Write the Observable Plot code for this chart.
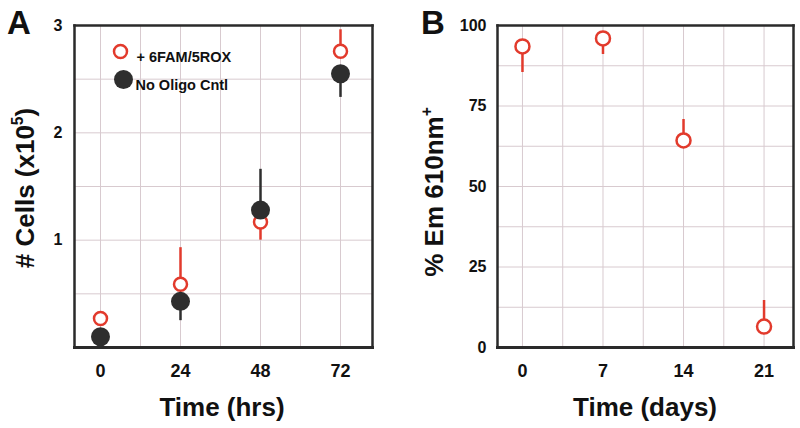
<!DOCTYPE html>
<html>
<head>
<meta charset="utf-8">
<script src="https://cdn.jsdelivr.net/npm/d3@7"></script>
<script src="https://cdn.jsdelivr.net/npm/@observablehq/plot@0.6"></script>
<style>
  html, body { margin: 0; padding: 0; background: #fff; }
  #wrap { position: relative; width: 800px; height: 428px; font-family: "Liberation Sans", Arial, sans-serif; font-weight: bold; color: #111; }
  #wrap svg { position: absolute; top: 0; }
  .ttl { position: absolute; white-space: nowrap; line-height: 1; }
  .rot { transform: translate(-50%, -50%) rotate(-90deg); }
  .ctr { transform: translate(-50%, -50%); }
  sup { font-size: 0.6em; vertical-align: 0.7em; line-height: 0; }
</style>
</head>
<body>
<div id="wrap"></div>
<script>
// ---- Panel A data ----
const hoursA = [0, 24, 48, 72];
const famMean = [0.27, 0.59, 1.17, 2.76];
const famErrEnd = [null, 0.93, 1.00, 2.96];
const ctrlMean = [0.10, 0.43, 1.28, 2.55];
const ctrlErrEnd = [null, 0.25, 1.66, 2.33];
const xTicksA = [0, 24, 48, 72];
const yTicksA = [1, 2, 3];
const xGridA = [0, 12, 24, 36, 48, 60, 72];
const yGridA = [0.5, 1, 1.5, 2, 2.5];
const legendLabels = ["+ 6FAM/5ROX", "No Oligo Cntl"];

// ---- Panel B data ----
const daysB = [0, 7, 14, 21];
const emMean = [93.5, 96, 64.3, 6.5];
const emErrEnd = [85.4, 91, 70.8, 14.6];
const xTicksB = [0, 7, 14, 21];
const yTicksB = [0, 25, 50, 75, 100];
const xGridB = [0, 3.5, 7, 10.5, 14, 17.5, 21];
const yGridB = [12.5, 25, 37.5, 50, 62.5, 75, 87.5];

const RED = "#e23a2c";
const DARK = "#2e2e2e";
const GRID = "#d8cacf";
const FRAME = "#2a2a2a";

const famRows = hoursA.map((h, i) => ({x: h, y: famMean[i], e: famErrEnd[i]}));
const ctrlRows = hoursA.map((h, i) => ({x: h, y: ctrlMean[i], e: ctrlErrEnd[i]}));
const emRows = daysB.map((d, i) => ({x: d, y: emMean[i], e: emErrEnd[i]}));

const baseStyle = {fontFamily: "Liberation Sans, Arial, sans-serif", fontWeight: "bold", color: "#111", background: "transparent", overflow: "visible"};
const intFmt = d3.format("d");

function frameMarks() {
  return ["top", "right", "bottom", "left"].map(a =>
    Plot.frame({anchor: a, stroke: FRAME, strokeOpacity: 1, strokeWidth: a === "bottom" ? 3 : 2.5, strokeLinecap: "square"}));
}

const plotA = Plot.plot({
  width: 400, height: 428,
  marginLeft: 74, marginRight: 28, marginTop: 25, marginBottom: 81,
  style: baseStyle,
  x: {domain: [-7.8, 81.6]},
  y: {domain: [0, 3]},
  marks: [
    Plot.gridX(xGridA, {stroke: GRID, strokeOpacity: 1, strokeWidth: 1}),
    Plot.gridY(yGridA, {stroke: GRID, strokeOpacity: 1, strokeWidth: 1}),
    Plot.axisX(xTicksA, {tickSize: 0, tickPadding: 17, fontSize: 18, fontWeight: "bold", label: null, tickFormat: intFmt}),
    Plot.axisY(yTicksA, {tickSize: 0, tickPadding: 12, fontSize: 16, fontWeight: "bold", label: null, tickFormat: intFmt}),
    ...frameMarks(),
    Plot.ruleX(famRows.filter(d => d.e != null), {x: "x", y1: "y", y2: "e", stroke: RED, strokeWidth: 2.5}),
    Plot.dot(famRows, {x: "x", y: "y", r: 6.5, stroke: RED, strokeWidth: 2.5, fill: "white"}),
    Plot.ruleX(ctrlRows.filter(d => d.e != null), {x: "x", y1: "y", y2: "e", stroke: DARK, strokeWidth: 2.5}),
    Plot.dot(ctrlRows, {x: "x", y: "y", r: 9.5, fill: DARK}),
    // legend
    Plot.dot([legendLabels[0]], {frameAnchor: "top-left", dx: 46, dy: 26, r: 6.5, stroke: RED, strokeWidth: 2.5, fill: "white"}),
    Plot.dot([legendLabels[1]], {frameAnchor: "top-left", dx: 49, dy: 54, r: 9.5, fill: DARK}),
    Plot.text([legendLabels[0]], {frameAnchor: "top-left", dx: 62, dy: 26, text: d => d, textAnchor: "start", fontSize: 14.5, fontWeight: "bold", fill: "#111"}),
    Plot.text([legendLabels[1]], {frameAnchor: "top-left", dx: 61, dy: 54, text: d => d, textAnchor: "start", fontSize: 14.5, fontWeight: "bold", fill: "#111"})
  ]
});

const plotB = Plot.plot({
  width: 400, height: 428,
  marginLeft: 97, marginRight: 7, marginTop: 25, marginBottom: 81,
  style: baseStyle,
  x: {domain: [-2.17, 23.56]},
  y: {domain: [0, 100]},
  marks: [
    Plot.gridX(xGridB, {stroke: GRID, strokeOpacity: 1, strokeWidth: 1}),
    Plot.gridY(yGridB, {stroke: GRID, strokeOpacity: 1, strokeWidth: 1}),
    Plot.axisX(xTicksB, {tickSize: 0, tickPadding: 17, fontSize: 18, fontWeight: "bold", label: null, tickFormat: intFmt}),
    Plot.axisY(yTicksB, {tickSize: 0, tickPadding: 11, fontSize: 16, fontWeight: "bold", label: null, tickFormat: intFmt}),
    ...frameMarks(),
    Plot.ruleX(emRows, {x: "x", y1: "y", y2: "e", stroke: RED, strokeWidth: 2.5}),
    Plot.dot(emRows, {x: "x", y: "y", r: 7, stroke: RED, strokeWidth: 2.5, fill: "white"})
  ]
});

const wrap = document.getElementById("wrap");
plotA.style.left = "0px";
plotB.style.left = "400px";
wrap.appendChild(plotA);
wrap.appendChild(plotB);

function addTitle(html, left, top, size, cls) {
  const d = document.createElement("div");
  d.className = "ttl " + cls;
  d.style.left = left + "px";
  d.style.top = top + "px";
  d.style.fontSize = size + "px";
  d.innerHTML = html;
  wrap.appendChild(d);
}
addTitle("A", 19, 22, 33, "ctr");
addTitle("B", 433, 22, 33, "ctr");
addTitle("# Cells (x10<sup>5</sup>)", 25, 188, 26, "rot");
addTitle("% Em 610nm<sup>+</sup>", 434, 192, 26, "rot");
addTitle("Time (hrs)", 222, 407, 26, "ctr");
addTitle("Time (days)", 645, 407, 26, "ctr");
</script>
</body>
</html>
